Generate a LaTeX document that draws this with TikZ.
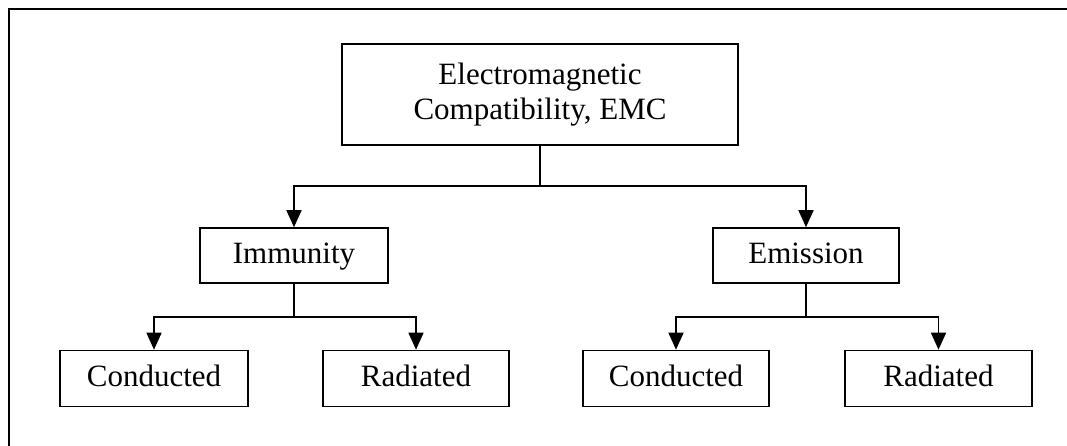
\documentclass[tikz,border=0pt]{standalone}
\usepackage{fontspec}
\setmainfont{Liberation Serif}
\usetikzlibrary{arrows.meta}
\tikzset{
  box/.style={draw=black, line width=1.6pt, rectangle, inner sep=0pt, align=center,
    font=\fontsize{31}{35}\selectfont, minimum height=55pt},
  leaf/.style={box, text height=22pt, text depth=7pt},
  conn/.style={draw=black, line width=1.6pt},
  arr/.style={conn, -{Triangle[width=15pt,length=17pt]}},
  frame/.style={draw=black, line width=2pt}
}
\begin{document}
\begin{tikzpicture}[x=1pt,y=-1pt]
\useasboundingbox (0,0) rectangle (1067,446);
\draw[frame] (9,446) -- (9,9) -- (1067,9);
\node[box, minimum width=396pt, minimum height=101pt] (emc) at (540,94.5) {Electromagnetic\\Compatibility, EMC};
\node[leaf, minimum width=188pt] (imm) at (294,255.5) {Immunity};
\node[leaf, minimum width=186pt] (emi) at (806,255.5) {Emission};
\node[leaf, minimum width=188pt, minimum height=56pt] (c1) at (154,378.5) {Conducted};
\node[leaf, minimum width=186pt, minimum height=56pt] (r1) at (416,378.5) {Radiated};
\node[leaf, minimum width=186pt, minimum height=56pt] (c2) at (676,378.5) {Conducted};
\node[leaf, minimum width=187pt, minimum height=56pt] (r2) at (938.5,378.5) {Radiated};
\coordinate (j0) at (540,186);
\coordinate (j1) at (294,317);
\coordinate (j2) at (806,317);
\draw[conn] (emc.south) -- (j0);
\draw[arr] (j0) -| (imm.north);
\draw[arr] (j0) -| (emi.north);
\draw[conn] (imm.south) -- (j1);
\draw[arr] (j1) -| (c1.north);
\draw[arr] (j1) -| (r1.north);
\draw[conn] (emi.south) -- (j2);
\draw[arr] (j2) -| (c2.north);
\draw[arr] (j2) -| (r2.north);
\end{tikzpicture}
\end{document}
